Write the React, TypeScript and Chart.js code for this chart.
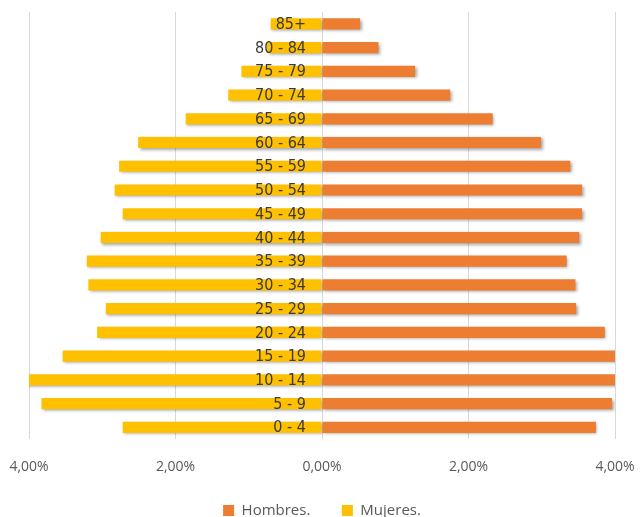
import React, { useEffect, useRef } from 'react';
import { Chart, registerables } from 'chart.js';

Chart.register(...registerables);

const ageGroups = ['0 - 4', '5 - 9', '10 - 14', '15 - 19', '20 - 24', '25 - 29', '30 - 34', '35 - 39', '40 - 44', '45 - 49', '50 - 54', '55 - 59', '60 - 64', '65 - 69', '70 - 74', '75 - 79', '80 - 84', '85+'];
const hombres = [3.74, 3.96, 4.1, 4.05, 3.86, 3.47, 3.46, 3.34, 3.51, 3.55, 3.55, 3.39, 2.99, 2.33, 1.75, 1.27, 0.77, 0.52];
const mujeres = [2.72, 3.83, 4.1, 3.54, 3.07, 2.95, 3.19, 3.21, 3.02, 2.72, 2.83, 2.77, 2.51, 1.86, 1.28, 1.1, 0.75, 0.7];
const xTicks = [-4, -2, 0, 2, 4];

const barShadow = {
  id: 'barShadow',
  beforeDatasetsDraw(chart: any) {
    const ctx = chart.ctx;
    ctx.save();
    ctx.shadowColor = 'rgba(0,0,0,0.35)';
    ctx.shadowBlur = 3;
    ctx.shadowOffsetX = 1.5;
    ctx.shadowOffsetY = 1.5;
  },
  afterDatasetsDraw(chart: any) {
    chart.ctx.restore();
  },
};

// age labels sit just left of the 0 line, over the bars
const centerLabels = {
  id: 'centerLabels',
  afterDatasetsDraw(chart: any) {
    const ctx = chart.ctx;
    const x0 = chart.scales.x.getPixelForValue(0);
    const yScale = chart.scales.y;
    ctx.save();
    ctx.font = '16px "DejaVu Sans Condensed", "DejaVu Sans", sans-serif';
    try { (ctx as any).fontStretch = 'condensed'; } catch (e) {}
    ctx.fillStyle = '#3a3a3a';
    ctx.textAlign = 'right';
    ctx.textBaseline = 'middle';
    yScale.ticks.forEach((_t: any, i: number) => {
      ctx.fillText(String(yScale.getLabelForValue(i)), x0 - 16, yScale.getPixelForTick(i) + 1);
    });
    ctx.restore();
  },
};

export default function App() {
  const chartRef = useRef<HTMLCanvasElement>(null);
  const chartInstance = useRef<Chart | null>(null);

  useEffect(() => {
    if (!chartRef.current) return;
    if (chartInstance.current) chartInstance.current.destroy();

    chartInstance.current = new Chart(chartRef.current, {
      type: 'bar',
      data: {
        labels: ageGroups,
        datasets: [
          {
            label: 'Hombres.',
            data: hombres,
            backgroundColor: '#ED7D31',
            barPercentage: 0.47,
            categoryPercentage: 1,
          },
          {
            label: 'Mujeres.',
            data: mujeres.map((v) => -v),
            backgroundColor: '#FFC000',
            barPercentage: 0.47,
            categoryPercentage: 1,
          },
        ],
      },
      plugins: [barShadow, centerLabels],
      options: {
        indexAxis: 'y',
        responsive: false,
        animation: false,
        layout: { padding: { left: 29, right: 26, top: 12, bottom: -11 } },
        scales: {
          x: {
            stacked: true,
            min: -4,
            max: 4,
            afterBuildTicks: (scale: any) => {
              scale.ticks = xTicks.map((v) => ({ value: v }));
            },
            afterFit: (scale: any) => {
              scale.paddingLeft = 0;
              scale.paddingRight = 0;
            },
            grid: { color: '#d9d9d9', drawTicks: false },
            border: { display: false },
            ticks: {
              padding: 19,
              color: '#595959',
              font: { family: 'Open Sans', size: 14 },
              callback: (v: any) => Math.abs(Number(v)).toFixed(2).replace('.', ',') + '%',
            },
          },
          y: {
            stacked: true,
            reverse: true,
            display: false,
          },
        },
        plugins: {
          legend: {
            position: 'bottom',
            labels: {
              boxWidth: 11,
              boxHeight: 11,
              padding: 9,
              color: '#595959',
              font: { family: 'Open Sans', size: 15 },
              // wider gap between the two legend entries
              generateLabels: (chart: any) => {
                const items = Chart.defaults.plugins.legend.labels.generateLabels(chart);
                if (items.length > 1) items[0].text = items[0].text + '\u2002\u2002\u2002';
                return items;
              },
            },
          },
          tooltip: { enabled: false },
        },
      },
    });

    return () => {
      if (chartInstance.current) {
        chartInstance.current.destroy();
        chartInstance.current = null;
      }
    };
  }, []);

  return (
    <div style={{ position: 'fixed', left: 0, top: 0, width: 641, height: 517, background: '#fff' }}>
      <canvas ref={chartRef} width={641} height={517} />
    </div>
  );
}
